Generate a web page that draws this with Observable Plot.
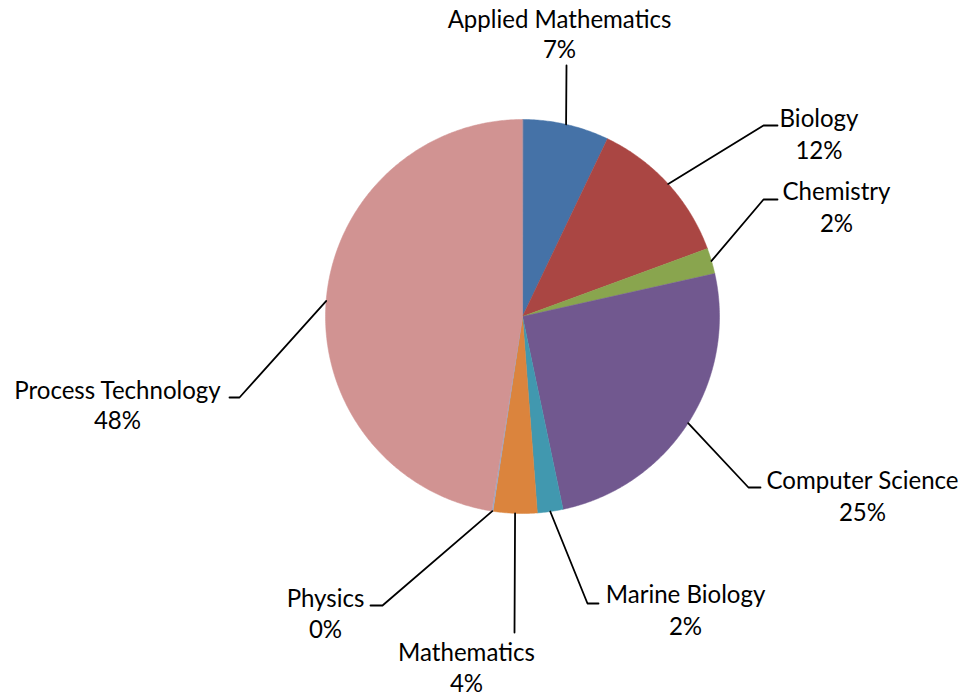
<!DOCTYPE html>
<html><head><meta charset="utf-8">
<script src="https://cdn.jsdelivr.net/npm/d3@7"></script>
<script src="https://cdn.jsdelivr.net/npm/@observablehq/plot@0.6"></script>
<style>body{margin:0;background:#fff}</style>
</head><body><div id="chart"></div>
<script>
// ---- data ----
const categories = ["Applied Mathematics","Biology","Chemistry","Computer Science","Marine Biology","Mathematics","Physics","Process Technology"];
const values = [71, 123, 21, 252, 21, 36, 1, 475];
const colors = ["#4572A7","#AA4643","#89A54E","#71588F","#4198AF","#DB843D","#93A9CF","#D19392"];

// ---- layout ----
const W = 968, H = 700;
const cx = 522, cy = 316, R = 197;
const labelX    = [559, 818.5, 836, 862, 685, 466, 325, 117];
const nameBase  = [27, 126, 199, 488, 602, 660, 606, 398];
const pctBase   = [57, 158, 231, 520, 634, 691, 637, 428];
const elbows = [
  [[566,65]],
  [[763,125],[777,125]],
  [[763,199],[777,199]],
  [[748,487],[760,487]],
  [[587,603],[598,603]],
  [[514,632]],
  [[382,605],[370,605]],
  [[239,397],[229,397]]
];

const fontFamily = "Lato";
const ctx = document.createElement("canvas").getContext("2d");
ctx.font = `100px ${fontFamily}`;
const targets = [["Applied Mathematics",225],["Computer Science",195],["Process Technology",210],["Marine Biology",157],["Mathematics",135]];
const fontSize = d3.mean(targets, ([t,w]) => w*100/ctx.measureText(t).width);

const total = d3.sum(values);
let acc = 0;
const sliceMarks = [];
const leaderPts = [];
categories.forEach((c, i) => {
  const a0 = acc/total*2*Math.PI; acc += values[i]; const a1 = acc/total*2*Math.PI;
  const n = Math.max(2, Math.ceil((a1-a0)/(Math.PI/360)));
  const pts = [{x: cx, y: cy}];
  for (let k = 0; k <= n; k++) {
    const a = a0 + (a1-a0)*k/n;
    pts.push({x: cx + R*Math.sin(a), y: cy - R*Math.cos(a)});
  }
  sliceMarks.push(Plot.line(pts, {x: "x", y: "y", fill: colors[i], stroke: colors[i], strokeWidth: 0.5, curve: "linear-closed"}));
  const am = (a0 + a1)/2;
  leaderPts.push({cat: c, x: cx + R*Math.sin(am), y: cy - R*Math.cos(am)});
  elbows[i].forEach(([x, y]) => leaderPts.push({cat: c, x, y}));
});

const labels = categories.map((c, i) => ({
  name: c, pct: Math.round(values[i]*100/total) + "%",
  x: labelX[i], yn: nameBase[i], yp: pctBase[i]
}));

const chart = Plot.plot({
  width: W, height: H,
  margin: 0,
  x: {domain: [0, W], range: [0, W], axis: null},
  y: {domain: [0, H], range: [0, H], axis: null},
  style: {background: "white", fontFamily},
  marks: [
    ...sliceMarks,
    Plot.line(leaderPts, {x: "x", y: "y", z: "cat", stroke: "black", strokeWidth: 1.8}),
    Plot.text(labels, {x: "x", y: "yn", text: "name", fontSize, fontFamily, fill: "black", textAnchor: "middle", lineAnchor: "bottom"}),
    Plot.text(labels, {x: "x", y: "yp", text: "pct", fontSize, fontFamily, fill: "black", textAnchor: "middle", lineAnchor: "bottom"})
  ]
});
document.getElementById("chart").append(chart);
</script>
</body></html>
